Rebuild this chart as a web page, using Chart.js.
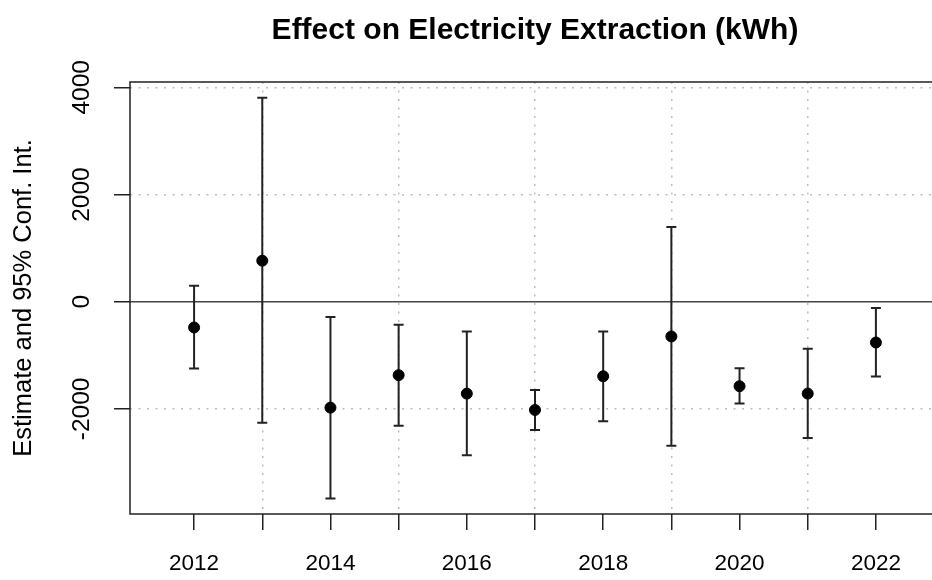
<!DOCTYPE html>
<html>
<head>
<meta charset="utf-8">
<title>Effect on Electricity Extraction</title>
<script src="https://cdn.jsdelivr.net/npm/chart.js@4/dist/chart.umd.min.js"></script>
<style>
  html, body { margin: 0; padding: 0; background: #fff; overflow: hidden; }
  #wrap { width: 960px; height: 580px; position: relative; }
</style>
</head>
<body>
<div id="wrap"><canvas id="effectChart"></canvas></div>
<script>
// Values
const years = [2012, 2013, 2014, 2015, 2016, 2017, 2018, 2019, 2020, 2021, 2022];
const estimate = [-480, 766, -1975, -1370, -1714, -2019, -1390, -648, -1576, -1713, -760];
const lower = [-1247, -2256, -3670, -2312, -2866, -2393, -2230, -2686, -1900, -2542, -1396];
const upper = [299, 3807, -286, -430, -555, -1645, -555, 1396, -1240, -879, -118];
const yTicks = [-2000, 0, 2000, 4000];

const FONT = "'Liberation Sans', Arial, Helvetica, sans-serif";
const GRID = '#bdbdbd';
const INK = '#222';

// box, zero line and error bars, all through the scales
const errorBars = {
  id: 'errorBars',
  beforeDatasetsDraw(chart) {
    const { ctx, chartArea: a, scales: { x, y } } = chart;
    ctx.save();

    // reference line at 0
    const y0 = y.getPixelForValue(0);
    ctx.strokeStyle = '#444';
    ctx.lineWidth = 1.5;
    ctx.beginPath();
    ctx.moveTo(a.left, y0);
    ctx.lineTo(a.right, y0);
    ctx.stroke();

    // intervals
    ctx.strokeStyle = INK;
    ctx.lineWidth = 2;
    years.forEach((yr, i) => {
      const px = x.getPixelForValue(yr);
      const top = y.getPixelForValue(upper[i]);
      const bot = y.getPixelForValue(lower[i]);
      ctx.beginPath();
      ctx.moveTo(px, top);
      ctx.lineTo(px, bot);
      ctx.moveTo(px - 5, top);
      ctx.lineTo(px + 5, top);
      ctx.moveTo(px - 5, bot);
      ctx.lineTo(px + 5, bot);
      ctx.stroke();
    });

    // plot box
    ctx.strokeStyle = INK;
    ctx.lineWidth = 1.5;
    ctx.strokeRect(a.left, a.top, a.right - a.left, a.bottom - a.top);
    ctx.restore();
  }
};

const chart = new Chart(document.getElementById('effectChart'), {
  type: 'scatter',
  data: {
    datasets: [{
      label: 'Estimate',
      data: years.map((yr, i) => ({ x: yr, y: estimate[i] })),
      backgroundColor: '#000',
      borderColor: '#000',
      pointRadius: 5.5,
      pointHoverRadius: 5.5
    }]
  },
  options: {
    responsive: true,
    maintainAspectRatio: false,
    animation: false,
    events: [],
    layout: { padding: { left: 0, right: 20, top: 0, bottom: 0 } },
    plugins: {
      legend: { display: false },
      tooltip: { enabled: false },
      title: {
        display: true,
        fullSize: false,
        text: 'Effect on Electricity Extraction (kWh)',
        color: '#000',
        font: { family: FONT, size: 30, weight: 'bold', lineHeight: 1.2 },
        padding: { top: 13, bottom: 33 }
      }
    },
    scales: {
      x: {
        type: 'linear',
        min: 2011.06,
        max: 2022.94,
        afterBuildTicks: axis => { axis.ticks = years.map(v => ({ value: v })); },
        afterFit: axis => { axis.height = 66; },
        border: { display: false, dash: [2, 6.5] },
        grid: {
          color: c => (c.tick && c.tick.value % 2 === 1) ? GRID : 'rgba(0,0,0,0)',
          lineWidth: 1.5,
          drawTicks: true,
          tickLength: 16,
          tickColor: INK,
          tickWidth: 1.5
        },
        ticks: {
          color: '#000',
          font: { family: FONT, size: 22.5 },
          padding: 20,
          maxRotation: 0,
          autoSkip: false,
          callback: v => (v % 2 === 0 ? String(v) : '')
        }
      },
      y: {
        min: -3960,
        max: 4100,
        afterBuildTicks: axis => { axis.ticks = yTicks.map(v => ({ value: v })); },
        afterFit: axis => { axis.width = 130; },
        border: { display: false, dash: [2, 6.5] },
        grid: {
          color: c => (c.tick && c.tick.value !== 0) ? GRID : 'rgba(0,0,0,0)',
          lineWidth: 1.5,
          drawTicks: true,
          tickLength: 16,
          tickColor: INK,
          tickWidth: 1.5
        },
        ticks: {
          color: '#000',
          font: { family: FONT, size: 24.5 },
          minRotation: 90,
          maxRotation: 90,
          crossAlign: 'center',
          padding: 0,
          callback: v => String(v)
        },
        title: {
          display: true,
          text: 'Estimate and 95% Conf. Int.',
          color: '#000',
          font: { family: FONT, size: 25.5, lineHeight: 1.2 },
          padding: { top: 9, bottom: 0 }
        }
      }
    }
  },
  plugins: [errorBars]
});
</script>
</body>
</html>
